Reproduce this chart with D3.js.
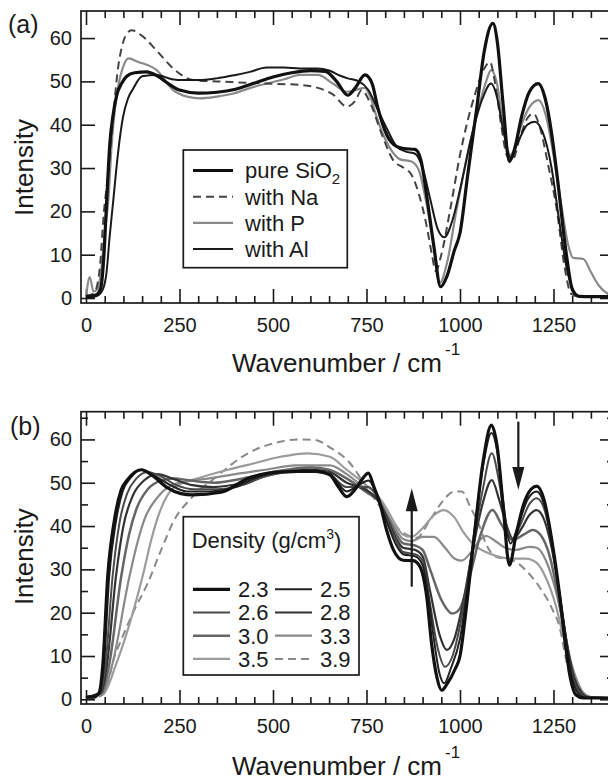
<!DOCTYPE html>
<html>
<head>
<meta charset="utf-8">
<script src="https://d3js.org/d3.v7.min.js"></script>
<style>
  body { margin: 0; background: #fff; }
  text { font-family: "Liberation Sans", Arial, sans-serif; fill: #1a1a1a; }
</style>
</head>
<body>
<div id="chart"></div>
<script>

// ---- panel (a): [wavenumber, intensity]
var pureSiO2 = [[0,0.3],[20,0.5],[32,1],[40,2.5],[48,10],[55,22],[64,36],[72,42],[82,46.8],[95,49.5],[109,51.2],[130,52],[162,52.2],[190,51.3],[220,49.5],[250,48],[300,47.3],[350,47.5],[400,48.2],[450,49.6],[500,51],[550,52],[600,52.5],[640,52.3],[670,50],[700,46.8],[720,48.5],[746,51.5],[765,49.5],[780,44],[805,37.5],[830,35],[850,34.5],[880,34.3],[895,32],[912,23],[930,12],[948,2.6],[965,5],[985,11],[1000,15],[1020,28],[1045,44],[1065,57],[1088,63.4],[1100,59],[1115,45],[1132,31.5],[1145,34],[1165,42],[1185,47.5],[1209,49.5],[1228,46],[1245,38],[1260,28],[1283,11],[1301,1.8],[1320,0.4],[1400,0.3]];
var withNa = [[0,0.5],[20,1],[30,3],[38,8],[48,20],[57,27],[66,35],[75,44],[84,52],[96,58],[110,61.1],[122,61.8],[150,60.5],[190,57],[233,53],[287,50.3],[350,50],[400,49.8],[480,49.5],[572,49.2],[620,48.5],[660,47],[697,44.2],[720,45.5],[737,48],[760,45],[790,38],[820,32],[850,30],[870,28.5],[890,24],[910,17],[925,10],[935,6.2],[950,10],[975,21],[1000,33],[1040,47],[1065,53],[1080,54.5],[1095,49],[1110,40],[1125,33],[1140,31.8],[1160,37],[1180,41.5],[1196,42.6],[1215,39],[1235,31],[1259,20.3],[1280,7],[1297,1],[1320,0.3],[1400,0.3]];
var withP = [[0,0],[10,4.8],[20,1.5],[30,2],[40,6],[50,15],[60,23],[68,34.6],[77,43.5],[86,48.8],[100,53.5],[113,55.3],[140,54.5],[189,52.6],[233,48],[270,46.5],[305,46.1],[350,46.5],[394,47.2],[440,48.5],[483,49.5],[530,50.5],[572,51.5],[620,51.5],[660,49.5],[697,47.6],[720,48],[745,48.5],[760,46.5],[780,41],[810,35],[840,32],[870,31.5],[890,29.5],[910,22],[930,12],[946,3.5],[965,8],[990,20],[1020,33],[1050,44],[1070,50],[1083,52.6],[1100,49],[1115,40],[1135,33],[1160,39],[1185,44],[1210,45.7],[1230,42],[1250,33],[1270,22],[1290,12],[1302,9.3],[1330,9],[1350,6],[1370,3],[1395,1],[1410,0.5]];
var withAl = [[0,0],[30,0.5],[45,2],[55,6],[63,14],[73,22.6],[85,33],[99,41.8],[112,46],[126,48.3],[150,51.2],[189,51.5],[230,50.5],[260,50.3],[300,50.3],[349,50.7],[400,51.5],[438,52.2],[483,53.2],[530,53.2],[572,53],[620,53],[650,52.5],[680,51.3],[700,50.7],[730,50],[755,48],[780,43.5],[805,39],[830,35],[855,33.8],[880,33.3],[900,30],[920,23],[940,16],[958,14],[980,18],[1000,25],[1030,37],[1060,46],[1083,49.5],[1100,46],[1115,39],[1135,32.5],[1155,36],[1180,40],[1200,40.7],[1220,38.5],[1245,30],[1265,18],[1285,7],[1305,1.5],[1320,0.3],[1400,0.3]];

// ---- panel (b): one curve per density (g/cm3)
var d23 = [[0,0.5],[20,0.5],[35,1.5],[45,8],[58,28.3],[76,41.4],[94,48.3],[111,50.7],[147,53],[180,51.5],[215,49],[254,47.5],[284,47.2],[361,47.8],[433,51],[522,52.5],[611,52.7],[652,51.8],[675,49],[697,46.8],[720,48.5],[740,51],[755,52.2],[770,49],[786,45.2],[804,39],[822,34.5],[848,32.1],[875,32],[893,30.6],[911,23.7],[924,12.9],[938,5.2],[951,2.1],[965,3.5],[987,7],[1000,10],[1014,19],[1036,36],[1062,55],[1084,63.3],[1100,58],[1115,45],[1132,31],[1150,38],[1170,45],[1190,48.5],[1205,49.2],[1225,46],[1245,37],[1265,25],[1280,14],[1295,5],[1310,1],[1330,0.3],[1400,0.3]];
var d25 = [[0,0.5],[35,1.5],[48,8],[62,28.3],[80,41],[98,48],[118,51],[150,53],[185,51.5],[225,49.5],[270,48],[330,48],[400,49],[450,51],[522,52.5],[611,52.5],[652,52],[697,48],[730,49.5],[755,50.5],[775,48],[804,41],[830,35.5],[848,33.5],[880,33],[900,31],[915,24],[930,14],[945,6],[958,3.7],[975,7],[1000,14],[1030,33],[1060,53],[1084,61.5],[1100,57],[1115,46],[1135,36],[1155,40],[1180,46],[1205,48],[1225,45],[1245,37],[1265,25],[1285,13],[1300,5],[1315,1.5],[1335,0.4],[1400,0.3]];
var d26 = [[0,0.5],[38,1.5],[52,8],[71,28.3],[90,41],[110,47.5],[135,51],[165,52.5],[200,51.5],[240,49.5],[290,48.5],[350,48.5],[420,49.5],[480,51.5],[560,52.5],[640,52.5],[697,49],[755,49],[780,46.5],[804,41.5],[830,36.5],[848,34],[880,33.5],[900,32],[920,22],[940,12],[960,7.5],[980,10],[1000,17],[1030,33],[1060,48],[1085,56.8],[1105,50],[1120,42],[1140,37],[1160,40],[1185,45],[1205,46.4],[1225,44],[1245,36],[1265,25],[1285,13],[1300,5.5],[1320,1.5],[1340,0.4],[1400,0.3]];
var d28 = [[0,0.5],[40,1.5],[56,8],[80,28.3],[100,40],[125,47],[155,50.5],[192,52],[230,51],[280,49.5],[340,49],[420,50],[500,52],[600,53],[650,52.5],[697,50],[755,48],[780,46],[804,42],[830,37],[848,35],[880,34.5],[900,33],[920,25],[945,15],[965,11.4],[985,14],[1005,21],[1035,35],[1060,45],[1085,50.6],[1105,46],[1125,40],[1142,37],[1165,39.5],[1185,42.5],[1205,43.7],[1225,41.5],[1245,35],[1265,25],[1285,13.5],[1305,5],[1325,1.5],[1345,0.4],[1400,0.3]];
var d30 = [[0,0.5],[42,1.5],[62,8],[94,28.3],[115,38],[135,44],[165,48.5],[200,50.5],[235,51],[280,50.5],[340,50],[420,51],[500,52.5],[600,53.5],[650,53],[697,51],[755,47.5],[780,46],[804,42.5],[830,38],[848,36],[880,35.5],[900,34.5],[920,30],[950,23],[980,19.8],[1000,21],[1025,28],[1055,38],[1087,43.7],[1110,40.5],[1141,36.8],[1170,38],[1194,39.1],[1215,38],[1240,33],[1260,25],[1280,15],[1300,6.5],[1320,2],[1345,0.5],[1400,0.3]];
var d33 = [[0,0.5],[45,1.5],[70,8],[116,28.3],[140,37],[156,41.5],[190,46.5],[230,49.5],[280,50.5],[330,51],[400,52],[480,53],[560,54],[620,54],[652,54],[697,52],[755,48],[780,46.5],[804,43],[830,39],[848,37],[870,36.5],[900,37.5],[930,37.5],[960,35],[985,32.5],[1004,32],[1030,34],[1055,37],[1070,37.7],[1095,36.5],[1120,35],[1150,34.5],[1185,35.2],[1205,35],[1230,32],[1250,27],[1270,20],[1290,11],[1310,5],[1330,1.5],[1350,0.5],[1400,0.3]];
var d35 = [[0,0.5],[48,1.5],[80,8],[151,28.3],[175,37],[192,42],[236,49],[299,51],[380,53],[450,54.5],[520,56],[593,56.8],[652,56],[697,53],[755,49],[780,47],[804,44],[830,40],[848,38],[870,37.5],[900,39.5],[930,42.5],[957,43.7],[985,42],[1010,38.5],[1040,35.5],[1069,34],[1100,33],[1140,32.5],[1176,32.5],[1205,31.5],[1230,28],[1255,22],[1275,15],[1295,8],[1315,3],[1335,1],[1360,0.4],[1400,0.3]];
var d39 = [[0,0.3],[30,0.5],[49,1.4],[76,9.8],[94,13.7],[129,20.6],[165,26.8],[201,34.5],[236,41.4],[281,46.4],[343,51],[433,56.8],[522,59.5],[566,60],[611,59.9],[655,58],[706,54.5],[741,50.2],[786,44.5],[830,39.8],[857,38],[884,37.3],[920,41.4],[956,46],[982,47.9],[1005,48],[1027,44.5],[1053,39.8],[1069,36],[1096,32.9],[1141,32.1],[1176,29.8],[1212,26],[1248,20.6],[1266,16.8],[1284,9],[1302,2.9],[1320,0.6],[1400,0.3]];

var legendA = ["pure SiO", "with Na", "with P", "with Al"];
var densities = ["2.3", "2.5", "2.6", "2.8", "3.0", "3.3", "3.5", "3.9"];
var xTicks = [0, 250, 500, 750, 1000, 1250];
var yTicks = [0, 10, 20, 30, 40, 50, 60];

// arrows in (b): [wavenumber, from, to]
var arrowUp = [871, 26, 48.7];
var arrowDown = [1156, 64.1, 48.3];

// styles
var styleA = [
  {color: "#111", w: 3.2, dash: null},
  {color: "#444", w: 2, dash: "8,5"},
  {color: "#8a8a8a", w: 2.2, dash: null},
  {color: "#1a1a1a", w: 2, dash: null}
];
var styleB = [
  {color: "#111", w: 3.2, dash: null},
  {color: "#222", w: 2, dash: null},
  {color: "#4a4a4a", w: 2, dash: null},
  {color: "#333", w: 2.2, dash: null},
  {color: "#666", w: 2.5, dash: null},
  {color: "#8a8a8a", w: 2.2, dash: null},
  {color: "#9c9c9c", w: 2.2, dash: null},
  {color: "#8a8a8a", w: 2, dash: "8,5"}
];

var W = 608, H = 782;
var left = 81, right = 614;

var svg = d3.select("#chart").append("svg")
  .attr("width", W).attr("height", H);

var x = d3.scaleLinear().domain([-13.4, 1411.8]).range([left, right]);

function drawPanel(top, bottom, ydom, minorY) {
  var y = d3.scaleLinear().domain(ydom).range([bottom, top]);
  var g = svg.append("g");

  var minorX = d3.range(50, 1401, 50).filter(function(d) { return d % 250 !== 0; });

  // bottom axis with labels
  g.append("g").attr("transform", "translate(0," + bottom + ")")
    .call(d3.axisBottom(x).tickValues(xTicks).tickSize(-14).tickPadding(15).tickFormat(d3.format("d")))
    .call(styleAxis);
  g.append("g").attr("transform", "translate(0," + bottom + ")")
    .call(d3.axisBottom(x).tickValues(minorX).tickSize(-7).tickFormat(""))
    .call(styleAxis);
  // top axis
  g.append("g").attr("transform", "translate(0," + top + ")")
    .call(d3.axisTop(x).tickValues(xTicks).tickSize(-14).tickFormat(""))
    .call(styleAxis);
  g.append("g").attr("transform", "translate(0," + top + ")")
    .call(d3.axisTop(x).tickValues(minorX).tickSize(-7).tickFormat(""))
    .call(styleAxis);
  // left / right
  g.append("g").attr("transform", "translate(" + left + ",0)")
    .call(d3.axisLeft(y).tickValues(yTicks).tickSize(-14).tickPadding(9))
    .call(styleAxis);
  g.append("g").attr("transform", "translate(" + right + ",0)")
    .call(d3.axisRight(y).tickValues(yTicks).tickSize(-14).tickFormat(""))
    .call(styleAxis);
  if (minorY) {
    var my = d3.range(5, 66, 10);
    g.append("g").attr("transform", "translate(" + left + ",0)")
      .call(d3.axisLeft(y).tickValues(my).tickSize(-7).tickFormat(""))
      .call(styleAxis);
    g.append("g").attr("transform", "translate(" + right + ",0)")
      .call(d3.axisRight(y).tickValues(my).tickSize(-7).tickFormat(""))
      .call(styleAxis);
  }

  g.append("rect")
    .attr("x", left).attr("y", top)
    .attr("width", right - left).attr("height", bottom - top)
    .attr("fill", "none").attr("stroke", "#1a1a1a").attr("stroke-width", 1.7);

  return {g: g, y: y};
}

function styleAxis(sel) {
  sel.select(".domain").remove();
  sel.selectAll(".tick line").attr("stroke", "#1a1a1a").attr("stroke-width", 1.6);
  sel.selectAll(".tick text").attr("font-size", 20).attr("fill", "#1a1a1a")
    .style("font-family", "Liberation Sans, Arial, sans-serif");
}

function drawCurve(g, y, data, st) {
  var line = d3.line()
    .x(function(d) { return x(d[0]); })
    .y(function(d) { return y(d[1]); })
    .curve(d3.curveMonotoneX);
  g.append("path").datum(data)
    .attr("d", line)
    .attr("fill", "none")
    .attr("stroke", st.color)
    .attr("stroke-width", st.w)
    .attr("stroke-linejoin", "round")
    .attr("stroke-dasharray", st.dash);
}

function axisTitles(yCenter, xBase, supDy) {
  svg.append("text")
    .attr("transform", "translate(33," + yCenter + ") rotate(-90)")
    .attr("text-anchor", "middle")
    .attr("font-size", 26)
    .text("Intensity");
  var t = svg.append("text")
    .attr("x", 232).attr("y", xBase)
    .attr("font-size", 26);
  t.append("tspan").text("Wavenumber / cm");
  t.append("tspan").attr("dx", 3).attr("dy", supDy).attr("font-size", 17).text("-1");
}

// ================= panel (a)
var pa = drawPanel(11, 303, [-1.15, 66.25], false);
var seriesA = [pureSiO2, withNa, withP, withAl];
[2, 1, 3, 0].forEach(function(i) { drawCurve(pa.g, pa.y, seriesA[i], styleA[i]); });

svg.append("text").attr("x", 8).attr("y", 33).attr("font-size", 25).text("(a)");
axisTitles(167.5, 372, -17);

var la = svg.append("g");
la.append("rect").attr("x", 183.3).attr("y", 150).attr("width", 164).attr("height", 117.7)
  .attr("fill", "#fff").attr("stroke", "#1a1a1a").attr("stroke-width", 1.7);
legendA.forEach(function(name, i) {
  var yy = 170.5 + i * 26.2;
  la.append("line").attr("x1", 193).attr("x2", 233).attr("y1", yy).attr("y2", yy)
    .attr("stroke", styleA[i].color).attr("stroke-width", styleA[i].w)
    .attr("stroke-dasharray", styleA[i].dash);
  var t = la.append("text").attr("x", 245).attr("y", yy).attr("dy", "0.36em").attr("font-size", 22);
  t.append("tspan").text(name);
  if (i === 0) t.append("tspan").attr("dy", 6).attr("font-size", 15).text("2");
});

// ================= panel (b)
var pb = drawPanel(411.7, 704, [-1.08, 66.4], true);
var seriesB = [d23, d25, d26, d28, d30, d33, d35, d39];
for (var i = seriesB.length - 1; i >= 0; i--) drawCurve(pb.g, pb.y, seriesB[i], styleB[i]);

svg.append("text").attr("x", 10).attr("y", 435).attr("font-size", 25).text("(b)");
axisTitles(556.7, 775, -17);

// arrows
function arrow(a) {
  var ax = x(a[0]), y0 = pb.y(a[1]), y1 = pb.y(a[2]);
  var dir = y1 < y0 ? 1 : -1;
  var headLen = 23, hw = 6;
  svg.append("line").attr("x1", ax).attr("x2", ax)
    .attr("y1", y0).attr("y2", y1 + dir * headLen * 0.8)
    .attr("stroke", "#1a1a1a").attr("stroke-width", 2.2);
  svg.append("path")
    .attr("d", "M" + ax + "," + y1 + "L" + (ax - hw) + "," + (y1 + dir * headLen) +
      "L" + (ax + hw) + "," + (y1 + dir * headLen) + "Z")
    .attr("fill", "#1a1a1a");
}
arrow(arrowUp);
arrow(arrowDown);

var lb = svg.append("g");
lb.append("rect").attr("x", 183.3).attr("y", 516.7).attr("width", 175.7).attr("height", 158.3)
  .attr("fill", "#fff").attr("stroke", "#1a1a1a").attr("stroke-width", 1.7);
var tt = lb.append("text").attr("x", 191.7).attr("y", 548.3).attr("font-size", 22);
tt.append("tspan").text("Density (g/cm");
tt.append("tspan").attr("dy", -9).attr("font-size", 14).text("3");
tt.append("tspan").attr("dy", 9).text(")");

densities.forEach(function(name, i) {
  var col = i % 2, row = Math.floor(i / 2);
  var yy = 589.3 + row * 23.2;
  var x0 = col === 0 ? 193 : 275;
  lb.append("line").attr("x1", x0).attr("x2", x0 + 37).attr("y1", yy).attr("y2", yy)
    .attr("stroke", styleB[i].color).attr("stroke-width", styleB[i].w)
    .attr("stroke-dasharray", styleB[i].dash);
  lb.append("text").attr("x", x0 + 45).attr("y", yy).attr("dy", "0.36em")
    .attr("font-size", 22).text(name);
});

</script>
</body>
</html>
